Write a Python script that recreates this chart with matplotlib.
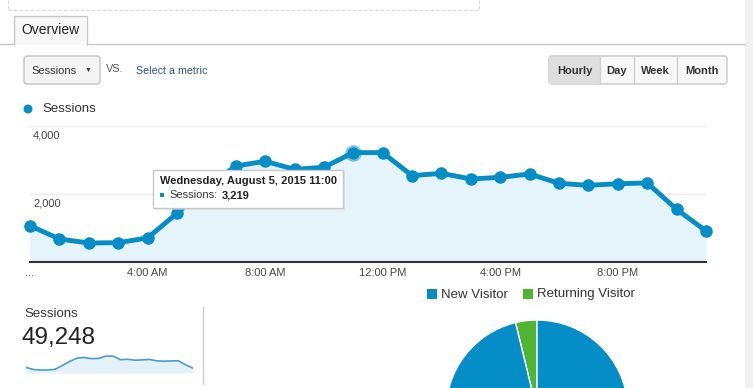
import matplotlib
matplotlib.use("Agg")
import matplotlib.pyplot as plt
from matplotlib.patches import Rectangle, FancyBboxPatch, Circle
from matplotlib.transforms import offset_copy

plt.rcParams['font.family'] = ['Liberation Sans', 'DejaVu Sans']

# ---------------- data ----------------
hours = list(range(24))
sessions = [1068, 676, 559, 568, 706, 1432, 2190, 2824, 2962, 2726, 2785, 3219,
            3215, 2540, 2608, 2441, 2491, 2588, 2314, 2255, 2303, 2324, 1550, 912]
tick_hours = [0, 4, 8, 12, 16, 20]
tick_labels = ["...", "4:00 AM", "8:00 AM", "12:00 PM", "4:00 PM", "8:00 PM"]
y_ticks = [2000, 4000]
total_sessions = "49,248"
hover_index = 11
hover_title = "Wednesday, August 5, 2015 11:00"
pie_labels = ["Returning Visitor", "New Visitor"]
pie_values = [3.8, 96.2]

BLUE = "#058dc7"
GREEN = "#50b432"
FILL = "#e5f3fa"

W, H = 753, 388
fig = plt.figure(figsize=(W / 100, H / 100), dpi=100)
fig.patch.set_facecolor("white")


def px_axes(l, t, r, b, z=1):
    return fig.add_axes([l / W, (H - b) / H, (r - l) / W, (b - t) / H], zorder=z)


# background UI layer
bg = fig.add_axes([0, 0, 1, 1], zorder=0)
bg.set_xlim(0, W)
bg.set_ylim(H, 0)
bg.axis("off")

# right gray strip
bg.add_patch(Rectangle((745, 0), 8, H, color="#f1f1f1", lw=0))
# dashed box at top
bg.plot([8, 479], [10, 10], color="#d8d8d8", lw=0.8, ls=(0, (3, 2)))
bg.plot([8, 8], [0, 10], color="#d8d8d8", lw=0.8, ls=(0, (3, 2)))
bg.plot([479, 479], [0, 10], color="#d8d8d8", lw=0.8, ls=(0, (3, 2)))
# tab line
bg.plot([0, 14], [44, 44], color="#c8c8c8", lw=1)
bg.plot([87, 745], [44, 44], color="#c8c8c8", lw=1)
bg.plot([14, 14, 87, 87], [44.5, 16, 16, 44.5], color="#c8c8c8", lw=1)
bg.add_patch(Rectangle((14.5, 16.5), 72, 28, color="#f7f7f7", lw=0))
bg.text(50.5, 30.5, "Overview", ha="center", va="center", fontsize=10, color="#222")

# Sessions dropdown
bg.add_patch(FancyBboxPatch((24, 56), 76, 28, boxstyle="round,pad=0,rounding_size=3",
                            fc="#f4f4f4", ec="#c4c4c4", lw=1))
bg.text(31, 70.5, "Sessions", ha="left", va="center", fontsize=8, color="#333")
bg.text(88.5, 70, "\u25BC", ha="center", va="center", fontsize=5, color="#444")
bg.text(106, 69.5, "VS.", ha="left", va="center", fontsize=7.8, color="#555")
bg.text(136, 70.5, "Select a metric", ha="left", va="center", fontsize=7.7, color="#2a4f8a")

# Hourly / Day / Week / Month buttons
bg.add_patch(FancyBboxPatch((549, 56), 178, 28, boxstyle="round,pad=0,rounding_size=3",
                            fc="#f8f8f8", ec="#c8c8c8", lw=1))
bg.add_patch(Rectangle((549.5, 56.5), 50.5, 27, color="#dedede", lw=0))
for xd in [600, 634, 677]:
    bg.plot([xd, xd], [56.5, 83.5], color="#d0d0d0", lw=1)
for xc, lab in [(575, "Hourly"), (617, "Day"), (655.5, "Week"), (702, "Month")]:
    bg.text(xc, 70.5, lab, ha="center", va="center", fontsize=8, color="#333",
            fontweight="bold")

# legend for main chart
bg.add_patch(Circle((28, 109), 4.5, color=BLUE, lw=0))
bg.text(42, 109.5, "Sessions", ha="left", va="center", fontsize=9.5, color="#333")

# ---------------- main line chart ----------------
ax = px_axes(30, 126, 706, 262, z=2)
ax.patch.set_alpha(0)
ax.set_xlim(0, 23)
ax.set_ylim(0, 4000)
for s in ax.spines.values():
    s.set_visible(False)
for v in y_ticks:
    ax.axhline(v, color="#ececec", lw=1, zorder=1)
ax.fill_between(hours, sessions, 0, color=FILL, lw=0, zorder=1)
ax.plot(hours, sessions, color=BLUE, lw=3.5, marker="o", ms=8, zorder=3,
        clip_on=False, solid_joinstyle="round")
ax.plot([hours[hover_index]], [sessions[hover_index]], "o", color="#5aa9d6", ms=11,
        zorder=2, clip_on=False, alpha=0.6)
ax.axhline(0, color="#333", lw=1.5, zorder=4, clip_on=False)
ax.set_yticks([])
ax.set_xticks(tick_hours)
ax.set_xticklabels(tick_labels, fontsize=8, color="#444")
ax.tick_params(axis="x", length=0, pad=4)
lbl_tr = offset_copy(ax.transData, fig=fig, x=3, y=-10, units="dots")
for v in y_ticks:
    ax.text(0, v, f"{v:,}", transform=lbl_tr, ha="left", va="center",
            fontsize=8, color="#444")

# ---------------- tooltip overlay ----------------
ov = fig.add_axes([0, 0, 1, 1], zorder=5)
ov.set_xlim(0, W)
ov.set_ylim(H, 0)
ov.axis("off")
ov.add_patch(Rectangle((155, 172), 190, 38, fc="#d8d8d8", lw=0, alpha=0.5))
ov.add_patch(Rectangle((153, 170), 190, 38, fc="white", ec="#c8c8c8", lw=1))
ov.text(160, 181.5, hover_title, ha="left", va="center", fontsize=8, color="#222",
        fontweight="bold")
ov.add_patch(Rectangle((160, 193), 4, 4, color=BLUE, lw=0))
t1 = ov.text(169, 195, "Sessions:", ha="left", va="center", fontsize=8, color="#333")
ov.annotate(f"{sessions[hover_index]:,}", xy=(1, 0.5), xycoords=t1,
            xytext=(3, 0), textcoords="offset points", ha="left", va="center",
            fontsize=8, color="#222", fontweight="bold")

# ---------------- bottom summary ----------------
bg.text(24, 314, "Sessions", ha="left", va="center", fontsize=9.5, color="#333")
bg.text(22, 338, total_sessions, ha="left", va="center", fontsize=17.5, color="#222")
bg.plot([203, 203], [307, 384], color="#cccccc", lw=1)

sp = px_axes(26, 352, 193, 373, z=2)
sp.patch.set_alpha(0)
sp.set_xlim(0, 23)
sp.set_ylim(0, 4000)
sp.fill_between(hours, sessions, 0, color="#e3f1f9", lw=0)
sp.plot(hours, sessions, color="#4b9dcf", lw=1.2)
sp.axis("off")

# pie legend
bg.add_patch(Rectangle((427, 289), 10, 10, color=BLUE, lw=0))
bg.text(441, 294.5, "New Visitor", ha="left", va="center", fontsize=9.5, color="#333")
bg.add_patch(Rectangle((523, 289), 10, 10, color=GREEN, lw=0))
bg.text(537, 294.5, "Returning Visitor", ha="left", va="center", fontsize=9.5,
        color="#333")

# pie
pa = px_axes(537 - 91, 411 - 91, 537 + 91, 411 + 91, z=2)
pa.pie(pie_values, colors=[GREEN, BLUE], startangle=90, counterclock=True,
       wedgeprops=dict(edgecolor="white", linewidth=1))
pa.set_xlim(-1, 1)
pa.set_ylim(-1, 1)
pa.set_aspect("auto")

fig.savefig("out.png", dpi=100)
